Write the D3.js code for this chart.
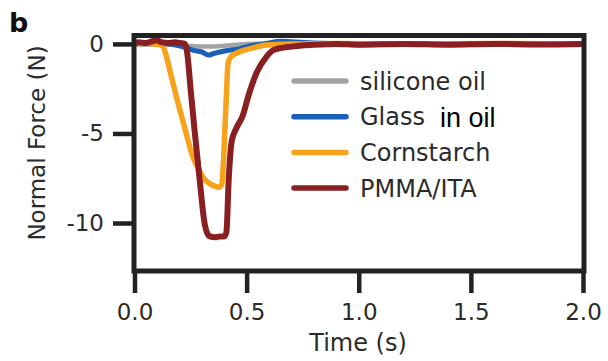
<!DOCTYPE html>
<html>
<head>
<meta charset="utf-8">
<script src="https://cdn.jsdelivr.net/npm/d3@7"></script>
<style>
  body { margin: 0; background: #fff; }
  svg text { font-family: "DejaVu Sans", Verdana, sans-serif; fill: #2b2b2b; }
</style>
</head>
<body>
<div id="chart"></div>
<script>
// data: [time (s), normal force (N)]
const siliconeOil = [[0,0.02],[0.1,0],[0.15,-0.03],[0.2,-0.08],[0.25,-0.12],[0.3,-0.15],[0.35,-0.15],[0.4,-0.1],[0.45,-0.05],[0.5,0],[0.7,0.02],[1.0,0],[1.5,0],[2.0,0]]
const glassInOil = [[0,0],[0.15,0],[0.2,-0.1],[0.23,-0.2],[0.26,-0.35],[0.3,-0.45],[0.33,-0.62],[0.35,-0.55],[0.38,-0.45],[0.42,-0.35],[0.46,-0.3],[0.5,-0.15],[0.55,-0.05],[0.6,0.05],[0.65,0.15],[0.7,0.12],[0.8,0.05],[1.0,0],[2.0,0]]
const cornstarch = [[0,0],[0.05,0.02],[0.1,-0.02],[0.125,-0.1],[0.14,-0.6],[0.16,-1.6],[0.187,-2.96],[0.22,-4.5],[0.261,-6.33],[0.29,-7.1],[0.306,-7.46],[0.336,-7.8],[0.36,-7.95],[0.375,-8.0],[0.389,-7.85],[0.397,-6.5],[0.403,-4.8],[0.41,-2.8],[0.417,-1.1],[0.43,-0.7],[0.45,-0.55],[0.47,-0.43],[0.52,-0.25],[0.589,-0.06],[0.7,0],[0.9,0.03],[1.2,0],[1.6,0.02],[2.0,0]]
const pmmaIta = [[0,0.05],[0.02,0.1],[0.05,0.05],[0.08,0.15],[0.1,0.2],[0.12,0.1],[0.15,0.05],[0.18,0.1],[0.2,0.05],[0.225,0],[0.235,-0.5],[0.25,-2.5],[0.268,-4.83],[0.291,-7.64],[0.313,-10.06],[0.325,-10.6],[0.336,-10.75],[0.36,-10.8],[0.38,-10.75],[0.4,-10.75],[0.41,-10.5],[0.42,-7.6],[0.434,-5.4],[0.456,-4.66],[0.483,-4.0],[0.506,-2.98],[0.545,-1.6],[0.589,-0.71],[0.62,-0.34],[0.7,-0.15],[0.8,-0.05],[0.9,0],[1.0,-0.05],[1.2,0],[1.4,-0.05],[1.6,0],[1.8,-0.03],[2.0,0]]

const seriesNames = ["silicone oil", "Glass", "Cornstarch", "PMMA/ITA"]
const seriesData = [siliconeOil, glassInOil, cornstarch, pmmaIta]
const seriesColors = ["#a3a3a3", "#1a5fb8", "#f7a21b", "#8a1f22"]
const seriesWidths = [4.5, 5, 5.5, 6]

const xTicks = [0, 0.5, 1.0, 1.5, 2.0]
const yTicks = [0, -5, -10]

const width = 608, height = 361

const svg = d3.select("#chart")
  .append("svg")
    .attr("width", width)
    .attr("height", height)

// scales, the box runs from 134 to 584 across and 35.5 to 271 down
const x = d3.scaleLinear().domain([0, 2]).range([134.5, 583])
const y = d3.scaleLinear().domain([-12.68, 0.47]).range([271, 35.5])

svg.append("clipPath").attr("id", "plot-clip")
  .append("rect")
    .attr("x", 134).attr("y", 35.5)
    .attr("width", 450).attr("height", 235.5)

const line = d3.line()
  .x(d => x(d[0]))
  .y(d => y(d[1]))
  .curve(d3.curveMonotoneX)

svg.append("g")
    .attr("clip-path", "url(#plot-clip)")
  .selectAll("path")
  .data(seriesData)
  .join("path")
    .attr("d", line)
    .attr("fill", "none")
    .attr("stroke", (d, i) => seriesColors[i])
    .attr("stroke-width", (d, i) => seriesWidths[i])
    .attr("stroke-linejoin", "round")
    .attr("stroke-linecap", "round")

// frame
svg.append("rect")
    .attr("x", 134).attr("y", 35.5)
    .attr("width", 450).attr("height", 235.5)
    .attr("fill", "none")
    .attr("stroke", "#222")
    .attr("stroke-width", 5)

// axes (plain hyphen for negatives like the original)
const yAxis = svg.append("g")
    .attr("transform", "translate(134,0)")
    .call(d3.axisLeft(y).tickValues(yTicks).tickSize(21).tickPadding(9).tickFormat(d => String(d)))
yAxis.select(".domain").remove()
yAxis.selectAll(".tick line").attr("stroke", "#222").attr("stroke-width", 4.5)
yAxis.selectAll(".tick text").attr("font-size", 23).attr("fill", "#2b2b2b")
  .style("font-family", "'DejaVu Sans', Verdana, sans-serif")

const xAxis = svg.append("g")
    .attr("transform", "translate(0,271)")
    .call(d3.axisBottom(x).tickValues(xTicks).tickSize(22).tickPadding(11).tickFormat(d3.format(".1f")))
xAxis.select(".domain").remove()
xAxis.selectAll(".tick line").attr("stroke", "#222").attr("stroke-width", 4.5)
xAxis.selectAll(".tick text").attr("font-size", 23).attr("fill", "#2b2b2b")
  .style("font-family", "'DejaVu Sans', Verdana, sans-serif")

// axis titles
svg.append("text")
    .attr("x", 358).attr("y", 343)
    .attr("text-anchor", "middle")
    .attr("dominant-baseline", "central")
    .attr("font-size", 24)
    .text("Time (s)")

svg.append("text")
    .attr("transform", "translate(37,143) rotate(-90)")
    .attr("text-anchor", "middle")
    .attr("dominant-baseline", "central")
    .attr("font-size", 23)
    .text("Normal Force (N)")

// panel letter
svg.append("text")
    .attr("x", 9).attr("y", 32)
    .attr("font-size", 27)
    .attr("font-weight", "bold")
    .style("fill", "#111")
    .text("b")

// legend
const legend = svg.append("g")
  .selectAll("g")
  .data(seriesNames)
  .join("g")
    .attr("transform", (d, i) => `translate(0,${81 + i * 35.7})`)

legend.append("line")
    .attr("x1", 294).attr("x2", 346)
    .attr("stroke", (d, i) => seriesColors[i])
    .attr("stroke-width", 5.5)
    .attr("stroke-linecap", "round")

legend.append("text")
    .attr("x", 360)
    .attr("dy", "0.36em")
    .attr("font-size", 24)
    .text(d => d)

// the "in oil" part is set in a different font in the original
svg.append("text")
    .attr("x", 440).attr("y", 117)
    .attr("dy", "0.36em")
    .attr("font-size", 27)
    .style("font-family", "'Liberation Sans', Arial, sans-serif")
    .style("fill", "#000")
    .text("in oil")
</script>
</body>
</html>
